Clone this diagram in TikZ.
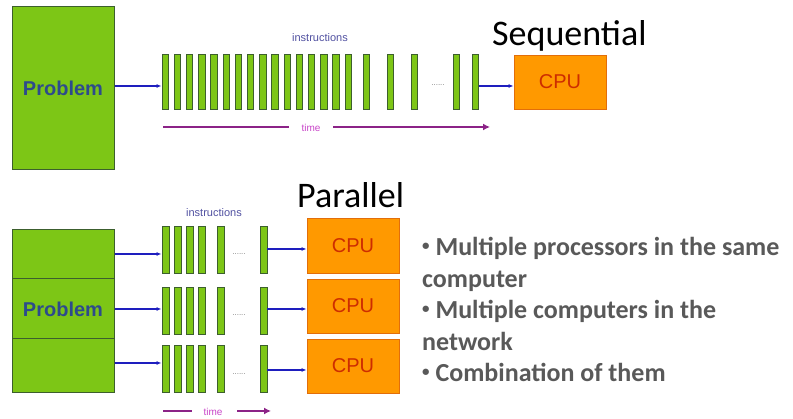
\documentclass[tikz,border=0pt]{standalone}
\usepackage{fontspec}
\usepackage{tikz}
\usetikzlibrary{arrows.meta, positioning}
\newfontfamily\calibrifont{Carlito}
\newfontfamily\arialfont{Liberation Sans}
\definecolor{probgreen}{RGB}{125,198,22}
\definecolor{bordergreen}{RGB}{60,95,45}
\definecolor{cpuorange}{RGB}{255,153,0}
\definecolor{cpuborder}{RGB}{226,110,10}
\definecolor{cpured}{RGB}{205,45,0}
\definecolor{flowblue}{RGB}{30,30,190}
\definecolor{timepurple}{RGB}{140,35,135}
\definecolor{timepink}{RGB}{200,70,200}
\definecolor{instrblue}{RGB}{80,80,160}
\definecolor{probtext}{RGB}{45,75,140}
\definecolor{bulletgray}{RGB}{89,89,89}
\newcommand{\smbullet}{\raisebox{5pt}{\fontsize{15}{15}\selectfont\textbullet}}
\tikzset{
  probbox/.style={draw=bordergreen, fill=probgreen, line width=1pt, inner sep=0pt},
  probtxt/.style={font=\arialfont\bfseries\fontsize{20}{20}\selectfont, text=probtext},
  instr/.style={draw=bordergreen, fill=probgreen, line width=0.9pt, inner sep=0pt,
                minimum width=6.5pt, minimum height=#1},
  cpubox/.style={draw=cpuborder, fill=cpuorange, line width=0.8pt, inner sep=0pt,
                 minimum width=92pt, font=\arialfont\fontsize{20}{20}\selectfont, text=cpured},
  flow/.style={-{Latex[length=5pt,width=4pt]}, flowblue, line width=1.5pt},
  timeline/.style={timepurple, line width=2.5pt},
  timelbl/.style={font=\arialfont\fontsize{10}{10}\selectfont, text=timepink, inner sep=0pt},
  lbl/.style={font=\arialfont\fontsize{11}{11}\selectfont, text=instrblue, inner sep=0pt},
  dots/.style={font=\arialfont\fontsize{8}{8}\selectfont, text=gray, inner sep=0pt},
  title/.style={font=\calibrifont\fontsize{36}{36}\selectfont, inner sep=0pt, anchor=base west}
}
\begin{document}
\begin{tikzpicture}[x=1pt, y=-1pt]
  \useasboundingbox (0,0) rectangle (793,419);

  % Sequential
  \node[title] (seqtitle) at (492,46) {Sequential};
  \node[probbox, probtxt, minimum width=102pt, minimum height=163pt] (prob) at (63,88.5) {Problem};
  \foreach \i in {0,...,15}
    \node[instr=55pt] (s\i) at (165.25+12.2*\i,82) {};
  \node[instr=55pt] (s16) at (366.25,82) {};
  \node[instr=55pt] (s17) at (390.25,82) {};
  \node[instr=55pt] (s18) at (414.25,82) {};
  \node[dots] (sdots) at (438,85) {......};
  \node[instr=55pt] (s19) at (456.25,82) {};
  \node[instr=55pt] (s20) at (475.25,82) {};
  \node[cpubox, minimum height=54pt] (cpu) at (560,82) {CPU};
  \node[lbl] (sinstr) at (320,38) {instructions};

  \draw[flow] (prob.east |- 0,86) -- (s0.west |- 0,86);
  \draw[flow] (s20.east |- 0,86) -- (cpu.west |- 0,86);

  \node[timelbl] (stime) at (311,128) {time};
  \coordinate (sta) at (163,127);
  \coordinate (stb) at (289,127);
  \coordinate (stc) at (333,127);
  \coordinate (std) at (490,127);
  \draw[timeline] (sta) -- (stb);
  \draw[timeline, -{Latex[length=7pt,width=7pt]}] (stc) -- (std);

  % Parallel
  \node[title] (partitle) at (297,208) {Parallel};
  \node[probbox, minimum width=102pt, minimum height=49pt] (prob1) at (63,254.5) {};
  \node[probbox, probtxt, minimum width=102pt, minimum height=60pt] (prob2) at (63,309) {Problem};
  \node[probbox, minimum width=102pt, minimum height=54pt] (prob3) at (63,366) {};
  \node[lbl] (pinstr) at (214,213) {instructions};

  \foreach \r/\yc/\ya in {1/249.5/254, 2/310.5/309, 3/369/363} {
    \foreach \j/\xc in {1/165.5, 2/177.5, 3/189.5, 4/201.5, 5/220.5, 6/263.5}
      \node[instr=47pt, minimum width=7pt] (p\r b\j) at (\xc,\yc) {};
    \node[dots] (p\r dots) at (239,\yc+5) {......};
    \draw[flow] (prob\r.east |- 0,\ya) -- (p\r b1.west |- 0,\ya);
  }
  \node[cpubox, minimum height=55pt] (cpu1) at (353,245.5) {CPU};
  \node[cpubox, minimum height=54pt] (cpu2) at (353,306) {CPU};
  \node[cpubox, minimum height=54pt] (cpu3) at (353,366) {CPU};
  \draw[flow] (p1b6.east |- 0,249) -- (cpu1.west |- 0,249);
  \draw[flow] (p2b6.east |- 0,309) -- (cpu2.west |- 0,309);
  \draw[flow] (p3b6.east |- 0,370) -- (cpu3.west |- 0,370);

  \node[timelbl] (ptime) at (213,412) {time};
  \coordinate (pta) at (163,411);
  \coordinate (ptb) at (192,411);
  \coordinate (ptc) at (237,411);
  \coordinate (ptd) at (271,411);
  \draw[timeline] (pta) -- (ptb);
  \draw[timeline, -{Latex[length=7pt,width=7pt]}] (ptc) -- (ptd);

  % bullet list
  \node[font=\calibrifont\bfseries\fontsize{26}{31.5}\selectfont, text=bulletgray,
        align=left, inner sep=0pt, anchor=base west] (bullets) at (422,382)
    {\smbullet{} Multiple processors in the same\\
     computer\\
     \smbullet{} Multiple computers in the\\
     network\\
     \smbullet{} Combination of them};
\end{tikzpicture}
\end{document}
